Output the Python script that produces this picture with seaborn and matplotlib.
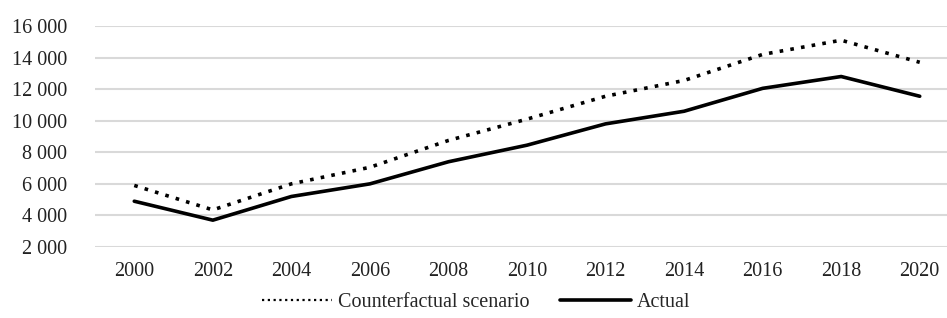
import pandas as pd
import seaborn as sns
import matplotlib.pyplot as plt
from matplotlib.ticker import FuncFormatter
from matplotlib.lines import Line2D

years = ['2000', '2002', '2004', '2006', '2008', '2010', '2012', '2014', '2016', '2018', '2020']
counterfactual = [5900, 4350, 6000, 7050, 8750, 10100, 11550, 12550, 14200, 15100, 13700]
actual = [4900, 3700, 5200, 6000, 7400, 8450, 9800, 10600, 12050, 12800, 11550]
series_names = ['Counterfactual scenario', 'Actual']

df = pd.DataFrame({
    'year': years * 2,
    'value': counterfactual + actual,
    'series': [series_names[0]] * len(years) + [series_names[1]] * len(years),
})

sns.set_style('white')
plt.rcParams['font.family'] = ['Liberation Serif', 'DejaVu Serif']

fig = plt.figure(figsize=(9.47, 3.18), dpi=100)
ax = fig.add_axes([95 / 947, 1 - 247 / 318, (959 - 95) / 947, (247 - 26) / 318])

dot = (1.0, 2.0)
sns.lineplot(data=df, x='year', y='value', hue='series', style='series',
             palette=['black', 'black'], dashes={series_names[0]: dot, series_names[1]: ''},
             linewidth=2.6, ax=ax, legend=False, sort=False)

ax.set_xlim(-0.5, 10.5)
ax.set_ylim(2000, 16000)
ax.set_yticks(range(2000, 16001, 2000))
ax.yaxis.set_major_formatter(FuncFormatter(lambda v, p: f'{int(v):,}'.replace(',', ' ')))
ax.grid(axis='y', color='#d9d9d9', linewidth=1.5)
ax.set_axisbelow(True)
for s in ax.spines.values():
    s.set_visible(False)
ax.tick_params(axis='both', length=0, labelsize=14.5, labelcolor='#222222')
ax.tick_params(axis='y', pad=20)
ax.tick_params(axis='x', pad=11)
ax.set_xlabel('')
ax.set_ylabel('')

handles = [Line2D([], [], color='black', linewidth=1.6, dashes=(1.0, 1.6)),
           Line2D([], [], color='black', linewidth=2.6)]
fig.legend(handles, series_names, loc='center', bbox_to_anchor=(476 / 947, 1 - 302 / 318),
           ncol=2, frameon=False, fontsize=14.5, handlelength=3.5, handletextpad=0.3,
           columnspacing=1.5)

fig.savefig('out.png', dpi=100)
